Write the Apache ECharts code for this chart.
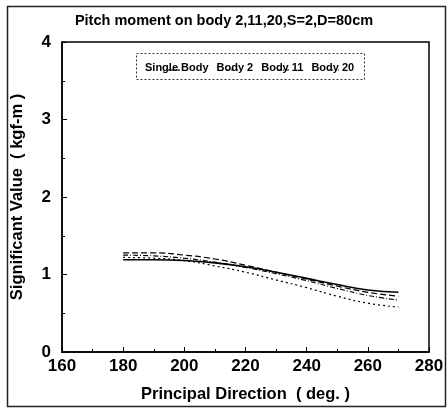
<!DOCTYPE html>
<html><head><meta charset="utf-8">
<script src="https://cdn.jsdelivr.net/npm/echarts@6/dist/echarts.min.js"></script>
<style>html,body{margin:0;padding:0;background:#fff}#c{width:448px;height:409px}</style>
</head><body><div id="c"></div>
<script>
const directions = [180, 190, 200, 210, 220, 230, 240, 250, 260, 270];
const singleBody = [1.19, 1.19, 1.18, 1.15, 1.10, 1.03, 0.95, 0.87, 0.80, 0.77];
const body2      = [1.28, 1.28, 1.25, 1.20, 1.12, 1.03, 0.94, 0.85, 0.77, 0.72];
const body11     = [1.25, 1.24, 1.21, 1.16, 1.09, 1.01, 0.92, 0.82, 0.73, 0.67];
const body20     = [1.22, 1.21, 1.18, 1.11, 1.03, 0.93, 0.83, 0.72, 0.63, 0.58];
const seriesNames = ['Single Body', 'Body 2', 'Body 11', 'Body 20'];
const titleText = 'Pitch moment on body 2,11,20,S=2,D=80cm';
const xName = 'Principal Direction  ( deg. )';
const yName = 'Significant Value  ( kgf-m )';

const F = 'Liberation Sans, Arial, sans-serif';
const pair = arr => directions.map((d, i) => [d, arr[i]]);
const styles = [
  {type: 'solid', width: 1.6},
  {type: [6, 3], width: 1.2},
  {type: [5, 2, 1, 2], width: 1.1},
  {type: [2, 3], width: 1.2}
];
const data = [singleBody, body2, body11, body20];

const chart = echarts.init(document.getElementById('c'));
chart.setOption({
  animation: false,
  backgroundColor: '#fff',
  title: {
    text: titleText, left: 'center', top: 8,
    textStyle: {fontFamily: F, fontWeight: 'bold', fontSize: 14.5, color: '#000'}
  },
  legend: {
    data: seriesNames, left: 138, top: 57, itemGap: 6, itemWidth: 1, itemHeight: 1,
    icon: 'none',
    textStyle: {fontFamily: F, fontWeight: 'bold', fontSize: 11, color: '#000', padding: [0,0,0,-4]}
  },
  grid: {left: 62, right: 19, top: 42, bottom: 57, show: true, borderColor: '#000', borderWidth: 1.5},
  xAxis: {
    type: 'value', min: 160, max: 280, interval: 20,
    name: xName, nameLocation: 'middle', nameGap: 34,
    nameTextStyle: {fontFamily: F, fontWeight: 'bold', fontSize: 16.5, color: '#000'},
    axisLine: {lineStyle: {color: '#000', width: 1.5}},
    axisTick: {inside: true, length: 5, lineStyle: {color: '#000'}},
    minorTick: {show: true, splitNumber: 2, length: 3, lineStyle: {color: '#000'}},
    splitLine: {show: false},
    axisLabel: {fontFamily: F, fontWeight: 'bold', fontSize: 17, color: '#000', margin: 6}
  },
  yAxis: {
    type: 'value', min: 0, max: 4, interval: 1,
    name: yName, nameLocation: 'middle', nameGap: 36,
    nameTextStyle: {fontFamily: F, fontWeight: 'bold', fontSize: 16.5, color: '#000'},
    axisLine: {lineStyle: {color: '#000', width: 1.5}},
    axisTick: {inside: true, length: 5, lineStyle: {color: '#000'}},
    minorTick: {show: true, splitNumber: 2, length: 3, lineStyle: {color: '#000'}},
    splitLine: {show: false},
    axisLabel: {fontFamily: F, fontWeight: 'bold', fontSize: 17, color: '#000', margin: 11}
  },
  graphic: [
    {type: 'rect', left: 5, top: 4, shape: {x: 0, y: 0, width: 438, height: 400},
     style: {fill: 'none', stroke: '#222', lineWidth: 1.5}, silent: true},
    {type: 'rect', left: 134, top: 51, shape: {x: 0, y: 0, width: 228, height: 26},
     style: {fill: 'none', stroke: '#333', lineWidth: 1, lineDash: [2, 2]}, silent: true},
    {type: 'line', shape: {x1: 168, y1: 70, x2: 180, y2: 70}, style: {stroke: '#000', lineWidth: 1.2}, silent: true},
    {type: 'line', shape: {x1: 226, y1: 70, x2: 238, y2: 70}, style: {stroke: '#000', lineWidth: 1.2, lineDash: [3, 2]}, silent: true},
    {type: 'line', shape: {x1: 278, y1: 70, x2: 290, y2: 70}, style: {stroke: '#000', lineWidth: 1, lineDash: [4, 1, 1, 1]}, silent: true},
    {type: 'line', shape: {x1: 329, y1: 70, x2: 339, y2: 70}, style: {stroke: '#000', lineWidth: 1.2, lineDash: [1, 2]}, silent: true}
  ],
  series: data.map((arr, i) => ({
    name: seriesNames[i], type: 'line', data: pair(arr), smooth: true,
    symbol: 'none', lineStyle: Object.assign({color: '#000'}, styles[i]),
    itemStyle: {color: '#000'}
  }))
});
</script></body></html>
